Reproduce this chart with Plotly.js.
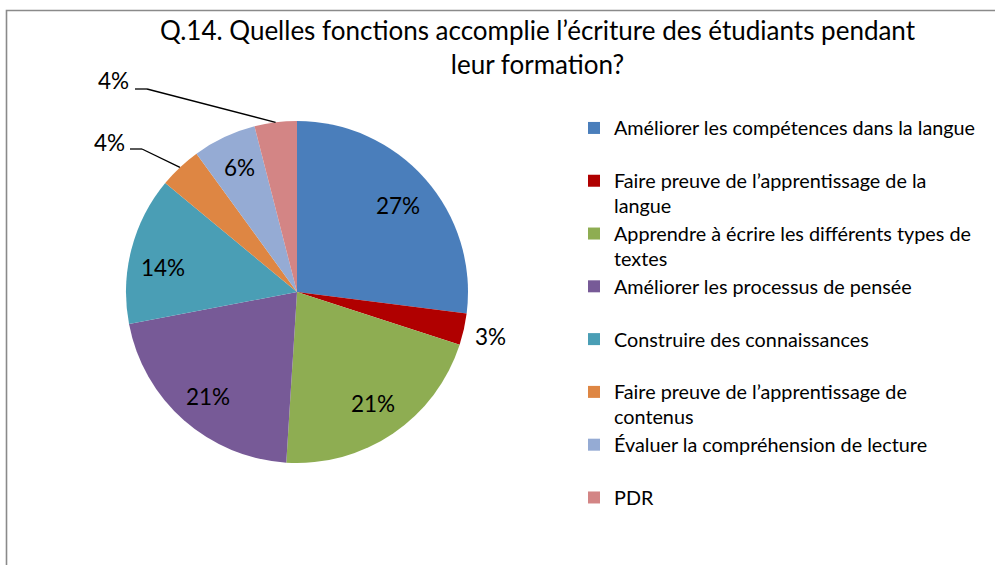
<!DOCTYPE html>
<html>
<head>
<meta charset="utf-8">
<script src="https://cdn.plot.ly/plotly-3.0.1.min.js"></script>
<style>html,body{margin:0;padding:0;background:#fff;}#chart{width:995px;height:565px;}</style>
</head>
<body>
<div id="chart"></div>
<script>
// ---- data ----
const categories = [
  "Améliorer les compétences dans la langue",
  "Faire preuve de l’apprentissage de la<br>langue",
  "Apprendre à écrire les différents types de<br>textes",
  "Améliorer les processus de pensée",
  "Construire des connaissances",
  "Faire preuve de l’apprentissage de<br>contenus",
  "Évaluer la compréhension de lecture",
  "PDR"
];
const values = [27, 3, 21, 21, 14, 4, 6, 4];
const sliceColors = ["#4A7EBB", "#B00000", "#8EAD52", "#775A97", "#4A9EB5", "#DE8643", "#95ABD4", "#D38585"];
const titleText = "Q.14. Quelles fonctions accomplie l’écriture des étudiants pendant<br>leur formation?";

// ---- layout constants ----
const W = 995, H = 565;
const cx = 297, cy = 292, R = 171;
const FONT = "Lato, 'Open Sans', sans-serif";
const insideR = 135;
// label placement mode per slice: inside / outside / leader
const labelMode = ["in", "out", "in", "in", "in", "leader", "in", "leader"];
// small pixel nudges of the data labels (layout only)
const labelNudge = [[0, 3], [0, 1], [0, 0], [0, 3], [-3, 9], [0, 0], [0, -2], [0, 0]];
// leader label text anchor (right edge, pixel) and elbow
const leaderLayout = {
  5: {lx: 127, ly: 142, ex0: 130, ex1: 142, ey: 149},
  7: {lx: 131, ly: 80, ex0: 135, ex1: 147, ey: 89}
};
const px2x = p => p / W;
const px2y = p => 1 - p / H;

const total = values.reduce((a, b) => a + b, 0);
const annotations = [];
const shapes = [];
let cum = 0;
values.forEach((v, i) => {
  const m = (cum + v / 2) / total;
  cum += v;
  const th = 2 * Math.PI * m;
  const sx = Math.sin(th), sy = -Math.cos(th);
  const txt = Math.round(v / total * 100) + "%";
  const lf = {family: FONT, size: 22.5, color: "#000"};
  if (labelMode[i] === "in" || labelMode[i] === "out") {
    const r = labelMode[i] === "in" ? insideR : R * 1.16;
    annotations.push({
      x: px2x(cx + r * sx + labelNudge[i][0]), y: px2y(cy + r * sy + labelNudge[i][1]),
      xref: "paper", yref: "paper",
      text: txt, showarrow: false, xanchor: "center", yanchor: "middle", font: lf
    });
  } else {
    const L = leaderLayout[i];
    const edgeX = cx + R * sx, edgeY = cy + R * sy;
    annotations.push({
      x: px2x(L.lx), y: px2y(L.ly), xref: "paper", yref: "paper",
      text: txt, showarrow: false, xanchor: "right", yanchor: "middle", font: lf
    });
    shapes.push({type: "line", xref: "paper", yref: "paper",
      x0: px2x(L.ex0), y0: px2y(L.ey), x1: px2x(L.ex1), y1: px2y(L.ey),
      line: {color: "#000", width: 1.3}});
    shapes.push({type: "line", xref: "paper", yref: "paper",
      x0: px2x(L.ex1), y0: px2y(L.ey), x1: px2x(edgeX), y1: px2y(edgeY),
      line: {color: "#000", width: 1.3}});
  }
});

// chart border
shapes.push({type: "rect", xref: "paper", yref: "paper",
  x0: px2x(6.5), x1: 1.02, y0: -0.05, y1: px2y(10.5),
  line: {color: "#8a8a8a", width: 1.6}, fillcolor: "rgba(0,0,0,0)", layer: "below"});

const LSPAN = '<span style="font-size:19.8px">';
const legendLabels = categories.map(c => {
  const t = c.indexOf("<br>") >= 0 ? c : c + "<br>\u00a0";
  return LSPAN + t.replace("<br>", '</span><br>' + LSPAN) + '</span>';
});

const trace = {
  type: "pie",
  values: values,
  labels: legendLabels,
  marker: {colors: sliceColors, line: {width: 0}},
  sort: false,
  direction: "clockwise",
  rotation: 0,
  textinfo: "none",
  hoverinfo: "label+percent",
  domain: {x: [px2x(cx - R), px2x(cx + R)], y: [px2y(cy + R), px2y(cy - R)]}
};

const layout = {
  width: W, height: H,
  margin: {l: 0, r: 0, t: 0, b: 0},
  paper_bgcolor: "#fff",
  font: {family: FONT, color: "#000"},
  title: {
    text: titleText, x: 537.5 / W, xanchor: "center",
    y: 1 - 40 / H, yanchor: "top", yref: "container",
    font: {family: FONT, size: 26, color: "#000"}
  },
  showlegend: true,
  legend: {
    x: px2x(574), xanchor: "left", y: px2y(109), yanchor: "top",
    valign: "top", font: {family: FONT, size: 19.15, color: "#000"},
    bgcolor: "rgba(0,0,0,0)", borderwidth: 0, tracegroupgap: 0
  },
  annotations: annotations,
  shapes: shapes
};

Plotly.newPlot("chart", [trace], layout, {displayModeBar: false, staticPlot: true});
</script>
</body>
</html>
